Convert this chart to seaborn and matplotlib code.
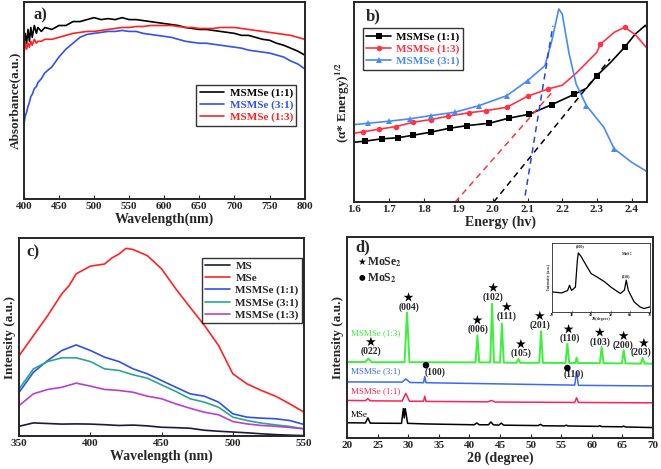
import numpy as np
import pandas as pd
import matplotlib
matplotlib.use("Agg")
import matplotlib.pyplot as plt
import seaborn as sns

# ---- a) UV-vis absorbance ----
wl_a = [400, 402, 404, 406, 408, 410, 412, 415, 418, 420, 425, 430,
        440, 450, 460, 470, 480, 490, 500, 510, 520, 530, 540, 550, 560, 570,
        580, 590, 600, 610, 620, 630, 640, 650, 660, 670, 680, 690, 700, 710,
        720, 730, 740, 750, 760, 770, 780, 790, 800]
abs_11 = [0.76, 0.84, 0.79, 0.86, 0.80, 0.87, 0.82, 0.88, 0.84, 0.87, 0.85, 0.87,
          0.86, 0.88, 0.88, 0.90, 0.90, 0.91, 0.92, 0.91, 0.915, 0.91, 0.92, 0.91,
          0.91, 0.905, 0.90, 0.895, 0.89, 0.885, 0.88, 0.87, 0.865, 0.86, 0.86,
          0.855, 0.85, 0.845, 0.84, 0.83, 0.83, 0.82, 0.81, 0.805, 0.79, 0.78,
          0.765, 0.75, 0.73]
abs_31 = [0.375, 0.42, 0.44, 0.47, 0.49, 0.52, 0.53, 0.56, 0.57, 0.59, 0.61, 0.64,
          0.67, 0.72, 0.76, 0.79, 0.82, 0.835, 0.84, 0.845, 0.85, 0.85, 0.855,
          0.85, 0.85, 0.84, 0.835, 0.83, 0.825, 0.82, 0.81, 0.80, 0.795, 0.79,
          0.79, 0.785, 0.78, 0.775, 0.77, 0.765, 0.755, 0.75, 0.745, 0.74, 0.73,
          0.72, 0.70, 0.685, 0.66]
abs_13 = [0.72, 0.80, 0.76, 0.79, 0.77, 0.80, 0.78, 0.81, 0.79, 0.80, 0.80, 0.81,
          0.81, 0.82, 0.83, 0.84, 0.845, 0.85, 0.85, 0.855, 0.86, 0.865, 0.87,
          0.87, 0.875, 0.875, 0.88, 0.88, 0.88, 0.88, 0.875, 0.87, 0.87, 0.865,
          0.865, 0.865, 0.87, 0.87, 0.87, 0.865, 0.86, 0.855, 0.85, 0.845, 0.84,
          0.835, 0.83, 0.82, 0.81]

# ---- b) Tauc plot ----
e_11 = [1.6, 1.63, 1.68, 1.725, 1.77, 1.82, 1.875, 1.925, 1.99, 2.045, 2.105,
        2.17, 2.235, 2.27, 2.30, 2.34, 2.38, 2.41, 2.44, 2.455]
t_11 = [0.30, 0.305, 0.317, 0.322, 0.335, 0.35, 0.37, 0.383, 0.395, 0.42, 0.44,
        0.488, 0.54, 0.57, 0.633, 0.70, 0.775, 0.84, 0.885, 0.845]
e_13 = [1.6, 1.625, 1.67, 1.72, 1.77, 1.82, 1.87, 1.93, 1.98, 2.04, 2.10, 2.16,
        2.2, 2.24, 2.3, 2.31, 2.35, 2.38, 2.41, 2.455]
t_13 = [0.345, 0.352, 0.365, 0.378, 0.40, 0.413, 0.43, 0.447, 0.458, 0.475, 0.53,
        0.567, 0.585, 0.645, 0.75, 0.79, 0.85, 0.875, 0.84, 0.75]
e_31 = [1.6, 1.64, 1.70, 1.76, 1.82, 1.89, 1.96, 2.04, 2.10, 2.15, 2.17, 2.19,
        2.2, 2.22, 2.24, 2.27, 2.32, 2.35, 2.4, 2.455]
t_31 = [0.388, 0.395, 0.405, 0.417, 0.433, 0.45, 0.483, 0.533, 0.608, 0.683,
        0.808, 0.967, 0.942, 0.742, 0.592, 0.483, 0.375, 0.267, 0.2, 0.142]
# tangent (band gap) fits: x and y of the two ends
fit_13 = ([1.891, 2.175], [0.0, 0.558])
fit_11 = ([2.002, 2.338], [0.0, 0.717])
fit_31 = ([2.093, 2.173], [0.033, 0.883])

# ---- c) PL ----
wl_c = [350, 360, 370, 380, 390, 400, 410, 420, 430, 440, 450, 460, 470, 480,
        490, 500, 510, 520, 530, 540, 550]
pl_ms = [0.05, 0.067, 0.064, 0.061, 0.062, 0.061, 0.058, 0.054, 0.056, 0.052,
         0.045, 0.043, 0.04, 0.03, 0.025, 0.021, 0.017, 0.012, 0.008, 0.005, 0.003]
pl_11 = [0.222, 0.323, 0.382, 0.433, 0.461, 0.433, 0.399, 0.377, 0.34, 0.315,
         0.281, 0.247, 0.214, 0.202, 0.172, 0.113, 0.096, 0.091, 0.088, 0.079, 0.059]
pl_31 = [0.239, 0.34, 0.377, 0.396, 0.396, 0.377, 0.34, 0.332, 0.31, 0.293, 0.259,
         0.226, 0.189, 0.172, 0.146, 0.096, 0.079, 0.066, 0.057, 0.049, 0.037]
pl_13 = [0.155, 0.214, 0.236, 0.247, 0.268, 0.253, 0.236, 0.231, 0.222, 0.202,
         0.189, 0.163, 0.141, 0.121, 0.108, 0.074, 0.062, 0.054, 0.05, 0.044, 0.037]
wl_mse = [350, 360, 370, 380, 385, 390, 400, 410, 415, 420, 425, 430, 440, 450,
          460, 470, 480, 490, 500, 510, 520, 530, 540, 550]
pl_mse = [0.407, 0.508, 0.609, 0.72, 0.76, 0.82, 0.859, 0.87, 0.90, 0.92, 0.949,
          0.943, 0.912, 0.845, 0.744, 0.651, 0.56, 0.458, 0.315, 0.264, 0.231,
          0.202, 0.163, 0.121]

# ---- d) XRD ----
tt_mse = [20, 23.0, 23.4, 23.8, 28.9, 29.2, 29.35, 29.5, 29.65, 29.9, 33, 40.8,
          41.2, 41.6, 43.1, 43.5, 43.9, 44.8, 45.2, 45.6, 51.2, 51.6, 52.0, 55.5,
          55.8, 56.1, 61.0, 61.3, 61.6, 64.9, 65.2, 65.5, 70]
x_mse = [0.076, 0.075, 0.10, 0.074, 0.073, 0.146, 0.10, 0.146, 0.12, 0.073, 0.07,
         0.066, 0.075, 0.066, 0.066, 0.08, 0.066, 0.064, 0.074, 0.064, 0.062,
         0.068, 0.061, 0.060, 0.064, 0.060, 0.058, 0.061, 0.057, 0.056, 0.059,
         0.055, 0.052]
tt_11 = [20, 23.0, 23.4, 23.8, 29.0, 29.6, 30.2, 32.5, 32.7, 32.9, 43.0, 43.6,
         44.2, 57.2, 57.5, 57.8, 70]
x_11 = [0.187, 0.186, 0.196, 0.185, 0.184, 0.222, 0.183, 0.183, 0.208, 0.182,
        0.180, 0.187, 0.179, 0.177, 0.20, 0.177, 0.175]
tt_31 = [20, 29.0, 29.6, 30.3, 32.5, 32.7, 32.9, 57.2, 57.5, 57.8, 70]
x_31 = [0.279, 0.278, 0.294, 0.276, 0.275, 0.306, 0.275, 0.263, 0.33, 0.262, 0.259]
tt_13 = [20, 23.0, 23.5, 24.0, 29.4, 29.8, 30.2, 41.0, 41.3, 41.6, 43.4, 43.7,
         44.0, 45.0, 45.3, 45.6, 47.7, 48.0, 48.3, 51.4, 51.7, 52.0, 55.7, 56.0,
         56.3, 57.3, 57.5, 57.7, 61.3, 61.6, 61.9, 64.9, 65.2, 65.5, 68.0, 68.3,
         68.6, 70]
x_13 = [0.378, 0.378, 0.395, 0.377, 0.377, 0.624, 0.377, 0.376, 0.51, 0.376,
        0.376, 0.668, 0.376, 0.375, 0.569, 0.375, 0.374, 0.393, 0.374, 0.374,
        0.531, 0.374, 0.373, 0.469, 0.373, 0.373, 0.40, 0.373, 0.372, 0.453,
        0.372, 0.371, 0.436, 0.371, 0.370, 0.398, 0.370, 0.370]
hkl_labels = ["(022)", "(004)", "(006)", "(102)", "(111)", "(105)", "(201)",
              "(110)", "(103)", "(200)", "(203)"]
hkl_x = [23.9, 30.05, 41.4, 43.9, 46.1, 48.5, 51.5, 56.4, 61.3, 65.1, 68.1]
hkl_y = [0.431, 0.652, 0.539, 0.70, 0.605, 0.42, 0.56, 0.494, 0.478, 0.461, 0.425]
star_x = [23.9, 30.05, 41.3, 43.9, 46.1, 48.4, 51.5, 56.2, 61.3, 65.2, 68.5]
mos2_labels = ["(100)", "(110)"]
mos2_x = [34.4, 57.0]
mos2_y = [0.328, 0.315]
dot_x = [32.9, 56.0]
dot_y = [0.362, 0.348]

# inset: MoS2
tt_in = [20, 25, 28, 29, 30, 32, 33, 33.5, 35, 37, 40, 43, 47, 50, 55, 57, 58,
         59, 62, 65, 67, 70]
x_in = [0.29, 0.275, 0.31, 0.386, 0.31, 0.36, 0.75, 0.855, 0.80, 0.70, 0.556,
        0.507, 0.435, 0.362, 0.266, 0.314, 0.459, 0.314, 0.145, 0.072, 0.048, 0.072]

sns.set_style("ticks")
plt.rcParams["font.family"] = ["Liberation Serif", "DejaVu Sans"]
plt.rcParams["font.weight"] = "bold"
plt.rcParams["axes.labelweight"] = "bold"
plt.rcParams["mathtext.fontset"] = "stix"
plt.rcParams["mathtext.default"] = "bf"
plt.rcParams["axes.linewidth"] = 1.4
plt.rcParams["xtick.direction"] = "in"

fig = plt.figure(figsize=(6.61, 4.69), dpi=100)
ax_a = fig.add_axes([0.036, 0.576, 0.425, 0.42])
ax_b = fig.add_axes([0.536, 0.569, 0.443, 0.426])
ax_c = fig.add_axes([0.029, 0.070, 0.431, 0.422])
ax_d = fig.add_axes([0.525, 0.066, 0.463, 0.429])

BLUE = "#2f52f0"
RED = "#ff2222"
leg_kw = dict(fontsize=8, frameon=True, fancybox=False, edgecolor="black",
              handlelength=2.2, handletextpad=0.5, borderpad=0.3, labelspacing=0.2,
              borderaxespad=0)

# a)
sns.lineplot(x=wl_a, y=abs_11, color="black", lw=1.2, label="MSMSe (1:1)", ax=ax_a)
sns.lineplot(x=wl_a, y=abs_31, color=BLUE, lw=1.2, label="MSMSe (3:1)", ax=ax_a)
sns.lineplot(x=wl_a, y=abs_13, color=RED, lw=1.2, label="MSMSe (1:3)", ax=ax_a)
ax_a.set_xlim(400, 800)
ax_a.set_ylim(0, 1)
ax_a.set_xticks(range(400, 801, 50))
ax_a.set_xlabel("Wavelength(nm)", fontsize=10, labelpad=1)
ax_a.set_ylabel("Absorbance(a.u.)", fontsize=9.5, labelpad=2)
leg = ax_a.legend(loc="upper right", bbox_to_anchor=(0.97, 0.58), **leg_kw)
for t, c in zip(leg.get_texts(), ["black", BLUE, RED]):
    t.set_color(c)
ax_a.text(0.06, 0.93, "a)", transform=ax_a.transAxes, fontsize=12, ha="center", va="center")

# b)
B_RED = "#ff3344"
B_BLUE = "#4a8af4"
sns.lineplot(x=e_11, y=t_11, color="black", lw=1.2, marker="s", markersize=4,
             markeredgewidth=0, markevery=list(range(1, 13)) + [14, 16, 19],
             label="MSMSe (1:1)", ax=ax_b)
sns.lineplot(x=e_13, y=t_13, color=B_RED, lw=1.2, marker="o", markersize=4,
             markeredgewidth=0, markevery=list(range(1, 12)) + [15, 17, 19],
             label="MSMSe (1:3)", ax=ax_b)
sns.lineplot(x=e_31, y=t_31, color=B_BLUE, lw=1.2, marker="^", markersize=4.5,
             markeredgewidth=0, markevery=list(range(1, 9)) + [15, 17, 19],
             label="MSMSe (3:1)", ax=ax_b)
ax_b.plot(fit_13[0], fit_13[1], color=B_RED, ls=(0, (4, 3)), lw=1.1)
ax_b.plot(fit_11[0], fit_11[1], color="black", ls=(0, (4, 3)), lw=1.1)
ax_b.plot(fit_31[0], fit_31[1], color="#2244ee", ls=(0, (4, 3)), lw=1.1)
ax_b.set_xlim(1.6, 2.445)
ax_b.set_ylim(0, 1)
ax_b.set_xticks(np.arange(1.6, 2.41, 0.1))
ax_b.set_xticklabels([f"{v:.1f}" for v in np.arange(1.6, 2.41, 0.1)])
ax_b.set_xlabel("Energy (hv)", fontsize=10, labelpad=1)
ax_b.set_ylabel("(α* Energy)$^{1/2}$", fontsize=9.5, labelpad=2)
leg = ax_b.legend(loc="upper left", bbox_to_anchor=(0.03, 0.87), **leg_kw)
for t, c in zip(leg.get_texts(), ["black", B_RED, B_BLUE]):
    t.set_color(c)
ax_b.text(0.066, 0.93, "b)", transform=ax_b.transAxes, fontsize=12, ha="center", va="center")

# c)
sns.lineplot(x=wl_c, y=pl_ms, color="#1a1a40", lw=1.2, label="MS", ax=ax_c)
sns.lineplot(x=wl_mse, y=pl_mse, color=RED, lw=1.2, label="MSe", ax=ax_c)
sns.lineplot(x=wl_c, y=pl_11, color="#3050e8", lw=1.2, label="MSMSe (1:1)", ax=ax_c)
sns.lineplot(x=wl_c, y=pl_31, color="#2aa592", lw=1.2, label="MSMSe (3:1)", ax=ax_c)
sns.lineplot(x=wl_c, y=pl_13, color="#b83fcf", lw=1.2, label="MSMSe (1:3)", ax=ax_c)
ax_c.set_xlim(350, 550)
ax_c.set_ylim(0, 1)
ax_c.set_xticks(range(350, 551, 50))
ax_c.set_xlabel("Wavelength (nm)", fontsize=10, labelpad=1)
ax_c.set_ylabel("Intensity (a.u.)", fontsize=9.5, labelpad=2)
ax_c.legend(loc="upper right", bbox_to_anchor=(0.993, 0.9), **leg_kw)
ax_c.text(0.05, 0.93, "c)", transform=ax_c.transAxes, fontsize=12, ha="center", va="center")

# d)
G = "#3cf03c"
D_BLUE = "#3a6af5"
D_RED = "#ff2255"
sns.lineplot(x=tt_mse, y=x_mse, color="black", lw=1.1, ax=ax_d)
sns.lineplot(x=tt_11, y=x_11, color=D_RED, lw=1.1, ax=ax_d)
sns.lineplot(x=tt_31, y=x_31, color=D_BLUE, lw=1.1, ax=ax_d)
sns.lineplot(x=tt_13, y=x_13, color=G, lw=1.4, ax=ax_d)
ax_d.set_xlim(20, 70)
ax_d.set_ylim(0, 1)
ax_d.set_xticks(range(20, 71, 5))
ax_d.set_xlabel("2θ (degree)", fontsize=10, labelpad=1)
ax_d.set_ylabel("Intensity (a.u.)", fontsize=9.5, labelpad=2)
for lab, xx, yy in zip(hkl_labels, hkl_x, hkl_y):
    ax_d.text(xx, yy, lab, fontsize=7, ha="center", va="center")
sns.scatterplot(x=star_x, y=[v + 0.047 for v in hkl_y], marker="*", s=55,
                color="black", edgecolor="none", ax=ax_d)
for lab, xx, yy in zip(mos2_labels, mos2_x, mos2_y):
    ax_d.text(xx, yy, lab, fontsize=7, ha="center", va="center")
sns.scatterplot(x=dot_x, y=dot_y, marker="o", s=22, color="black",
                edgecolor="none", zorder=5, ax=ax_d)
ax_d.text(20.6, 0.522, "MSMSe (1:3)", color=G, fontsize=6.5, fontweight="normal", va="center")
ax_d.text(20.6, 0.332, "MSMSe (3:1)", color=D_BLUE, fontsize=6.5, fontweight="normal", va="center")
ax_d.text(20.6, 0.232, "MSMSe (1:1)", color=D_RED, fontsize=6.5, fontweight="normal", va="center")
ax_d.text(20.6, 0.113, "MSe", color="black", fontsize=6.5, fontweight="normal", va="center")
sns.scatterplot(x=[22.5], y=[0.876], marker="*", s=30, color="black", edgecolor="none", ax=ax_d)
sns.scatterplot(x=[22.5], y=[0.796], marker="o", s=18, color="black", edgecolor="none", ax=ax_d)
ax_d.text(23.3, 0.874, "MoSe$_2$", fontsize=8.5, va="center")
ax_d.text(23.3, 0.794, "MoS$_2$", fontsize=8.5, va="center")
ax_d.text(0.05, 0.95, "d)", transform=ax_d.transAxes, fontsize=12, ha="center", va="center")

ax_in = fig.add_axes([0.835, 0.335, 0.148, 0.147])
sns.lineplot(x=tt_in, y=x_in, color="black", lw=0.9, ax=ax_in)
ax_in.set_xlim(20, 70)
ax_in.set_ylim(0, 1)
ax_in.set_xticks(range(20, 71, 10))
ax_in.set_yticks([])
ax_in.tick_params(labelsize=3, length=1, pad=0.5)
for s in ax_in.spines.values():
    s.set_linewidth(0.6)
ax_in.set_xlabel("2θ(degree)", fontsize=3, labelpad=0)
ax_in.set_ylabel("Intensity (a.u.)", fontsize=3, labelpad=1)
ax_in.text(34.4, 0.94, "(100)", fontsize=3, ha="center")
ax_in.text(58.1, 0.51, "(110)", fontsize=3, ha="center")
ax_in.text(58.1, 0.82, "MoS$_2$", fontsize=3, ha="center")

for ax in [ax_a, ax_b, ax_c, ax_d]:
    ax.set_yticks([])
    ax.tick_params(axis="x", labelsize=8, length=3, pad=2)
    for s in ax.spines.values():
        s.set_linewidth(1.4)

fig.savefig("out.png", dpi=100)
